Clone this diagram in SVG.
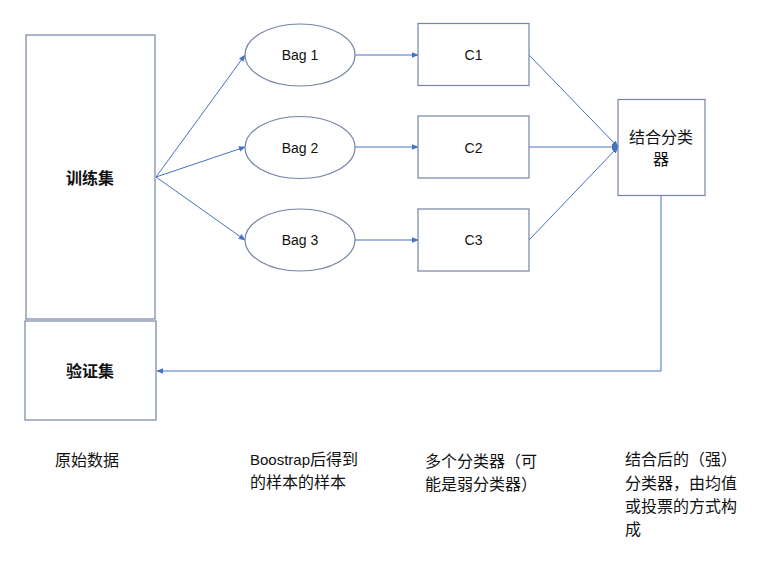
<svg xmlns="http://www.w3.org/2000/svg" width="760" height="562" viewBox="0 0 760 562">
<defs>
<marker id="arr" viewBox="0 0 10 10" refX="9" refY="5" markerWidth="7" markerHeight="7" markerUnits="userSpaceOnUse" orient="auto">
<path d="M0,1 L10,5 L0,9 z" fill="#4472C4"/>
</marker>
</defs>
<style>
.box{fill:#fff;stroke:#7484a6;stroke-width:1.2}
.ln{fill:none;stroke:#4472C4;stroke-width:1}
.lbl{font-family:"Liberation Sans","Noto Sans CJK SC",sans-serif;font-size:14px;fill:#111}
.cjk{font-family:"Noto Sans CJK SC","Liberation Sans",sans-serif;font-size:16px;fill:#111}
.lat{font-family:"Liberation Sans","Noto Sans CJK SC",sans-serif;font-size:15px}
.bold{font-weight:bold;font-size:16px}
</style>
<rect width="760" height="562" fill="#fff"/>
<g id="connectors">
<line class="ln" x1="156" y1="177" x2="245" y2="55" marker-end="url(#arr)"/>
<line class="ln" x1="156" y1="177" x2="245" y2="147" marker-end="url(#arr)"/>
<line class="ln" x1="156" y1="177" x2="245" y2="240" marker-end="url(#arr)"/>
<line class="ln" x1="355" y1="55" x2="418" y2="55" marker-end="url(#arr)"/>
<line class="ln" x1="355" y1="147" x2="418" y2="147" marker-end="url(#arr)"/>
<line class="ln" x1="355" y1="240" x2="418" y2="240" marker-end="url(#arr)"/>
<line class="ln" x1="529" y1="55" x2="618" y2="147" marker-end="url(#arr)"/>
<line class="ln" x1="529" y1="147" x2="618" y2="147" marker-end="url(#arr)"/>
<line class="ln" x1="529" y1="240" x2="618" y2="147" marker-end="url(#arr)"/>
<polyline class="ln" points="661,196 661,371 157,371" marker-end="url(#arr)"/>
</g>
<g id="train">
<rect class="box" x="26" y="35" width="129" height="284"/>
<text class="cjk bold" x="90" y="184" text-anchor="middle">训练集</text>
</g>
<g id="valid">
<rect class="box" x="25" y="321" width="131" height="99"/>
<text class="cjk bold" x="90" y="377" text-anchor="middle">验证集</text>
</g>
<g id="bag1">
<ellipse class="box" cx="300" cy="55" rx="55" ry="31"/>
<text class="lbl" x="300" y="60" text-anchor="middle">Bag 1</text>
</g>
<g id="bag2">
<ellipse class="box" cx="300" cy="147.5" rx="55" ry="31"/>
<text class="lbl" x="300" y="152.5" text-anchor="middle">Bag 2</text>
</g>
<g id="bag3">
<ellipse class="box" cx="300" cy="240" rx="55" ry="31"/>
<text class="lbl" x="300" y="245" text-anchor="middle">Bag 3</text>
</g>
<g id="c1">
<rect class="box" x="418" y="23.5" width="111" height="62"/>
<text class="lbl" x="473.5" y="60" text-anchor="middle">C1</text>
</g>
<g id="c2">
<rect class="box" x="418" y="116" width="111" height="62"/>
<text class="lbl" x="473.5" y="152.5" text-anchor="middle">C2</text>
</g>
<g id="c3">
<rect class="box" x="418" y="209" width="111" height="62"/>
<text class="lbl" x="473.5" y="245" text-anchor="middle">C3</text>
</g>
<g id="combiner">
<rect class="box" x="618" y="99.5" width="87" height="96"/>
<text class="cjk" x="661" y="143" text-anchor="middle">结合分类</text>
<text class="cjk" x="661" y="165" text-anchor="middle">器</text>
</g>
<g id="captions">
<text class="cjk" x="55" y="466">原始数据</text>
<text class="cjk" x="250" y="465"><tspan class="lat">Boostrap</tspan>后得到</text>
<text class="cjk" x="250" y="488">的样本的样本</text>
<text class="cjk" x="425" y="467">多个分类器（可</text>
<text class="cjk" x="425" y="490">能是弱分类器）</text>
<text class="cjk" x="625" y="465">结合后的（强）</text>
<text class="cjk" x="625" y="489">分类器，由均值</text>
<text class="cjk" x="625" y="512">或投票的方式构</text>
<text class="cjk" x="625" y="535">成</text>
</g>
</svg>
